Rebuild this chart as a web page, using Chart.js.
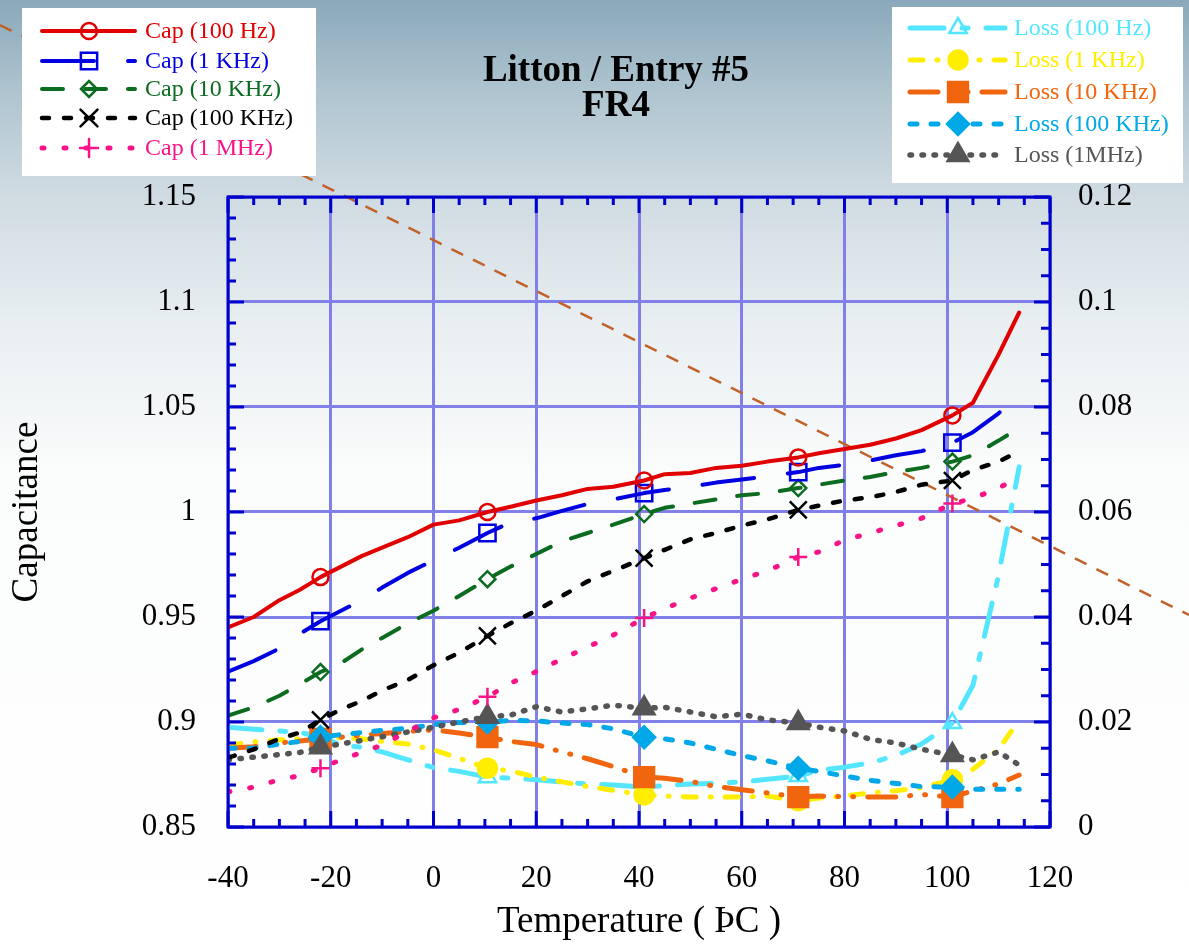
<!DOCTYPE html>
<html>
<head>
<meta charset="utf-8">
<script src="https://cdn.jsdelivr.net/npm/chart.js@4.4.1/dist/chart.umd.min.js"></script>
<style>
  html, body { margin: 0; padding: 0; background: #fff; }
  #wrap { width: 1189px; height: 945px; }
</style>
</head>
<body>
<div id="wrap"><canvas id="myChart" width="1189" height="945"></canvas></div>
<script>
// temperatures (deg C) of the readings
var temps = [-40, -35, -30, -26, -22, -18, -14, -10, -5, 0, 5, 10.5, 15, 20, 25, 30, 35, 41, 45, 50, 55, 60, 65, 71, 75, 80, 85, 90, 95, 101, 105, 110, 114];
// readings that carry a symbol
var markerTemps = [-22, 10.5, 41, 71, 101];

// capacitance, left axis
var cap100Hz = [0.945, 0.950, 0.958, 0.963, 0.969, 0.974, 0.979, 0.983, 0.988, 0.994, 0.996, 1.000, 1.0025, 1.0055, 1.008, 1.011, 1.012, 1.015, 1.018, 1.0186, 1.021, 1.022, 1.024, 1.026, 1.028, 1.030, 1.032, 1.035, 1.039, 1.046, 1.052, 1.075, 1.095];
var cap1KHz = [0.924, 0.929, 0.935, 0.942, 0.948, 0.953, 0.958, 0.964, 0.971, 0.977, 0.983, 0.990, 0.995, 0.997, 1.0005, 1.0038, 1.006, 1.009, 1.0105, 1.012, 1.014, 1.0155, 1.017, 1.019, 1.021, 1.0225, 1.0245, 1.027, 1.029, 1.033, 1.038, 1.047, 1.056];
var cap10KHz = [0.903, 0.907, 0.9125, 0.918, 0.9238, 0.928, 0.9345, 0.940, 0.947, 0.953, 0.960, 0.968, 0.974, 0.980, 0.986, 0.990, 0.994, 0.999, 1.002, 1.004, 1.006, 1.008, 1.009, 1.0114, 1.013, 1.015, 1.0167, 1.019, 1.021, 1.024, 1.027, 1.034, 1.040];
var cap100KHz = [0.883, 0.887, 0.892, 0.895, 0.901, 0.906, 0.910, 0.915, 0.920, 0.927, 0.933, 0.941, 0.947, 0.953, 0.960, 0.967, 0.972, 0.978, 0.982, 0.987, 0.990, 0.9935, 0.9965, 1.001, 1.003, 1.0055, 1.007, 1.0095, 1.013, 1.015, 1.020, 1.024, 1.029];
var cap1MHz = [0.8667, 0.869, 0.8725, 0.8745, 0.878, 0.882, 0.8855, 0.889, 0.8955, 0.902, 0.906, 0.912, 0.9185, 0.924, 0.930, 0.9357, 0.9414, 0.9495, 0.954, 0.959, 0.9635, 0.968, 0.972, 0.9786, 0.981, 0.9866, 0.990, 0.9935, 0.997, 1.004, 1.0065, 1.0114, 1.0167];

// loss, right axis
var loss100Hz = [0.019, 0.0186, 0.0183, 0.018, 0.0172, 0.0156, 0.0152, 0.0143, 0.0128, 0.0113, 0.0106, 0.0095, 0.0093, 0.009, 0.0086, 0.0082, 0.008, 0.0076, 0.0079, 0.0082, 0.0083, 0.0086, 0.0091, 0.0097, 0.0108, 0.0114, 0.0122, 0.0136, 0.0158, 0.0198, 0.027, 0.048, 0.0686];
var loss1KHz = [0.0156, 0.0162, 0.0166, 0.0168, 0.017, 0.017, 0.0168, 0.0163, 0.0158, 0.0147, 0.0131, 0.0112, 0.0107, 0.0095, 0.0086, 0.0077, 0.007, 0.0061, 0.0059, 0.0057, 0.0057, 0.0057, 0.0059, 0.005, 0.0055, 0.0059, 0.0065, 0.0069, 0.0075, 0.009, 0.011, 0.0148, 0.0204];
var loss10KHz = [0.015, 0.0153, 0.016, 0.0164, 0.0168, 0.0171, 0.0175, 0.0178, 0.0182, 0.0185, 0.0179, 0.0171, 0.0163, 0.0157, 0.0143, 0.013, 0.0115, 0.0095, 0.0093, 0.0087, 0.0077, 0.0071, 0.0065, 0.0057, 0.0059, 0.0058, 0.0057, 0.0057, 0.0062, 0.0057, 0.0069, 0.0082, 0.0099];
var loss100KHz = [0.015, 0.015, 0.0158, 0.0163, 0.0171, 0.0176, 0.018, 0.0184, 0.0188, 0.0195, 0.0199, 0.02, 0.0203, 0.0202, 0.0198, 0.0195, 0.0187, 0.0171, 0.0168, 0.016, 0.0148, 0.0136, 0.0126, 0.0112, 0.0106, 0.0097, 0.0089, 0.0083, 0.0077, 0.0076, 0.0072, 0.0072, 0.0072];
var loss1MHz = [0.0128, 0.0133, 0.0138, 0.0142, 0.0152, 0.0158, 0.0165, 0.0172, 0.0181, 0.019, 0.02, 0.021, 0.0213, 0.0229, 0.0219, 0.0225, 0.0232, 0.0226, 0.0228, 0.0219, 0.021, 0.0215, 0.0204, 0.0198, 0.019, 0.0183, 0.0167, 0.016, 0.0148, 0.0137, 0.0128, 0.0143, 0.0118];

// tick labels
var tempTicks = [-40, -20, 0, 20, 40, 60, 80, 100, 120];
var capTicks = [0.85, 0.9, 0.95, 1, 1.05, 1.1, 1.15];
var lossTicks = [0, 0.02, 0.04, 0.06, 0.08, 0.1, 0.12];

var SERIF = '"Liberation Serif", "Times New Roman", serif';
Chart.defaults.font.family = SERIF;
Chart.defaults.color = '#000';

function pts(vals) {
   return temps.map(function (t, i) { return { x: t, y: vals[i] }; });
}
function marks(r) {
   return temps.map(function (t) { return markerTemps.indexOf(t) >= 0 ? r : 0; });
}

function series(label, vals, axis, color, dash, width, style, radius, fill, order) {
   return {
      label: label,
      data: pts(vals),
      yAxisID: axis,
      borderColor: color,
      borderWidth: width,
      borderDash: dash,
      borderCapStyle: 'round',
      borderJoinStyle: 'round',
      pointStyle: style,
      pointRadius: marks(radius),
      pointBorderColor: color,
      pointBackgroundColor: fill ? color : 'rgba(0,0,0,0)',
      pointBorderWidth: 2.5,
      order: order
   };
}

var datasets = [
   series('Cap (100 Hz)', cap100Hz, 'yCap', '#e00000', [], 4, 'circle', 8, false, 1),
   series('Cap (1 KHz)', cap1KHz, 'yCap', '#0000e0', [52, 34], 4, 'rect', 11.5, false, 2),
   series('Cap (10 KHz)', cap10KHz, 'yCap', '#0b6b1f', [21, 22], 4, 'rectRot', 8, false, 3),
   series('Cap (100 KHz)', cap100KHz, 'yCap', '#000000', [7, 15], 4.5, 'crossRot', 12, false, 4),
   series('Cap (1 MHz)', cap1MHz, 'yCap', '#f81487', [2, 20], 5, 'cross', 9, false, 5),
   series('Loss (100 Hz)', loss100Hz, 'yLoss', '#55e6ff', [34, 18, 6, 18], 5, 'triangle', 10, false, 10),
   series('Loss (1 KHz)', loss1KHz, 'yLoss', '#ffee00', [13, 14, 1, 14], 5, 'circle', 9.5, true, 9),
   series('Loss (10 KHz)', loss10KHz, 'yLoss', '#f0650e', [28, 14, 1, 14, 1, 14], 5, 'rect', 14, true, 8),
   series('Loss (100 KHz)', loss100KHz, 'yLoss', '#00a8e8', [7, 14], 5, 'rectRot', 11, true, 7),
   series('Loss (1MHz)', loss1MHz, 'yLoss', '#555555', [1.5, 10.5], 5.5, 'triangle', 12, true, 6)
];

// slide backdrop, decorative diagonal, inward ticks, border, title and the two legend boxes
var decor = {
   id: 'decor',
   beforeDraw: function (chart) {
      var ctx = chart.ctx;
      var g = ctx.createLinearGradient(0, 0, 0, chart.height);
      g.addColorStop(0, '#8aa9ba');
      g.addColorStop(0.1, '#b0c5d0');
      g.addColorStop(0.2, '#cedae1');
      g.addColorStop(0.34, '#e8eef1');
      g.addColorStop(0.5, '#fbfcfc');
      g.addColorStop(1, '#ffffff');
      ctx.save();
      ctx.fillStyle = g;
      ctx.fillRect(0, 0, chart.width, chart.height);
      ctx.restore();
   },
   beforeDatasetsDraw: function (chart) {
      var ctx = chart.ctx;
      ctx.save();
      ctx.strokeStyle = '#c0622a';
      ctx.lineWidth = 2.5;
      ctx.setLineDash([13, 11]);
      ctx.beginPath();
      ctx.moveTo(0, 25);
      ctx.lineTo(1189, 615);
      ctx.stroke();
      ctx.restore();
   },
   afterDatasetsDraw: function (chart) {
      var ctx = chart.ctx, a = chart.chartArea, s = chart.scales;
      var i, p, len;
      ctx.save();
      ctx.strokeStyle = '#0000cc';
      ctx.lineWidth = 3;
      ctx.setLineDash([]);
      ctx.beginPath();
      for (i = 0; i <= 32; i++) {
         p = s.x.getPixelForValue(-40 + i * 5);
         len = i % 4 === 0 ? 16 : 8;
         ctx.moveTo(p, a.bottom); ctx.lineTo(p, a.bottom - len);
         ctx.moveTo(p, a.top); ctx.lineTo(p, a.top + len);
      }
      for (i = 0; i <= 30; i++) {
         p = s.yCap.getPixelForValue(0.85 + i * 0.01);
         len = i % 5 === 0 ? 16 : 8;
         ctx.moveTo(a.left, p); ctx.lineTo(a.left + len, p);
      }
      for (i = 0; i <= 24; i++) {
         p = s.yLoss.getPixelForValue(i * 0.005);
         len = i % 4 === 0 ? 16 : 9;
         ctx.moveTo(a.right, p); ctx.lineTo(a.right - len, p);
      }
      ctx.stroke();
      ctx.strokeRect(a.left, a.top, a.right - a.left, a.bottom - a.top);
      ctx.restore();
   },
   afterDraw: function (chart) {
      var ctx = chart.ctx;
      ctx.save();
      ctx.fillStyle = '#000';
      ctx.textAlign = 'center';
      ctx.textBaseline = 'middle';
      ctx.font = 'bold 37px ' + SERIF;
      ctx.fillText('Litton / Entry #5', 616, 71);
      ctx.fillText('FR4', 616, 106);
      ctx.restore();

      drawLegend(chart, [0, 1, 2, 3, 4], { x: 22, y: 8, w: 294, h: 168, x0: 42, x1: 135, mx: 89, tx: 145, rows: [31, 61, 89, 118, 148] });
      drawLegend(chart, [5, 6, 7, 8, 9], { x: 892, y: 7, w: 291, h: 176, x0: 910, x1: 1005, mx: 958, tx: 1014, rows: [28, 60, 92, 124, 155] });
   }
};

function drawLegend(chart, idx, box) {
   var ctx = chart.ctx;
   ctx.save();
   ctx.fillStyle = '#ffffff';
   ctx.fillRect(box.x, box.y, box.w, box.h);
   idx.forEach(function (d, k) {
      var ds = chart.data.datasets[d];
      var y = box.rows[k];
      ctx.strokeStyle = ds.borderColor;
      ctx.lineWidth = ds.borderWidth;
      ctx.lineCap = 'round';
      ctx.setLineDash(ds.borderDash);
      ctx.beginPath();
      ctx.moveTo(box.x0, y);
      ctx.lineTo(box.x1, y);
      ctx.stroke();
      ctx.setLineDash([]);
      ctx.fillStyle = ds.pointBackgroundColor;
      ctx.lineWidth = ds.pointBorderWidth;
      var r = Math.max.apply(null, ds.pointRadius);
      Chart.helpers.drawPoint(ctx, { pointStyle: ds.pointStyle, rotation: 0, radius: r, borderWidth: ds.pointBorderWidth }, box.mx, y);
      ctx.fillStyle = ds.borderColor;
      ctx.font = '24px ' + SERIF;
      ctx.textAlign = 'left';
      ctx.textBaseline = 'middle';
      ctx.fillText(ds.label, box.tx, y + 1);
   });
   ctx.restore();
}

function fixed(list) {
   return function (scale) { scale.ticks = list.map(function (v) { return { value: v }; }); };
}

var ctx = document.getElementById('myChart').getContext('2d');
var myChart = new Chart(ctx, {
   type: 'line',
   data: { datasets: datasets },
   plugins: [decor],
   options: {
      responsive: false,
      animation: false,
      devicePixelRatio: 1,
      layout: { padding: { top: 197, left: 0, right: 0, bottom: 0 } },
      plugins: {
         legend: { display: false },
         tooltip: { enabled: false }
      },
      elements: { line: { tension: 0 } },
      scales: {
         x: {
            type: 'linear',
            min: -40,
            max: 120,
            afterBuildTicks: fixed(tempTicks),
            afterFit: function (scale) { scale.height = 118; },
            grid: { color: '#8080e8', lineWidth: 3, drawTicks: false },
            border: { display: false },
            ticks: { padding: 33, font: { size: 31 }, color: '#000', maxRotation: 0, callback: function (v) { return String(v); } },
            title: { display: true, text: 'Temperature ( ÞC )', font: { size: 37 }, color: '#000', padding: { top: 0, bottom: 1 } }
         },
         yCap: {
            type: 'linear',
            position: 'left',
            min: 0.85,
            max: 1.15,
            afterBuildTicks: fixed(capTicks),
            afterFit: function (scale) { scale.width = 228; },
            grid: { color: '#8080e8', lineWidth: 3, drawTicks: false },
            border: { display: false },
            ticks: { padding: 32, font: { size: 31 }, color: '#000', callback: function (v) { return String(v); } },
            title: { display: true, text: 'Capacitance', font: { size: 37 }, color: '#000', padding: { top: 5, bottom: 0 } }
         },
         yLoss: {
            type: 'linear',
            position: 'right',
            min: 0,
            max: 0.12,
            afterBuildTicks: fixed(lossTicks),
            afterFit: function (scale) { scale.width = 139; },
            grid: { display: false, drawTicks: false },
            border: { display: false },
            ticks: { padding: 28, font: { size: 31 }, color: '#000', callback: function (v) { return String(v); } }
         }
      }
   }
});
</script>
</body>
</html>
